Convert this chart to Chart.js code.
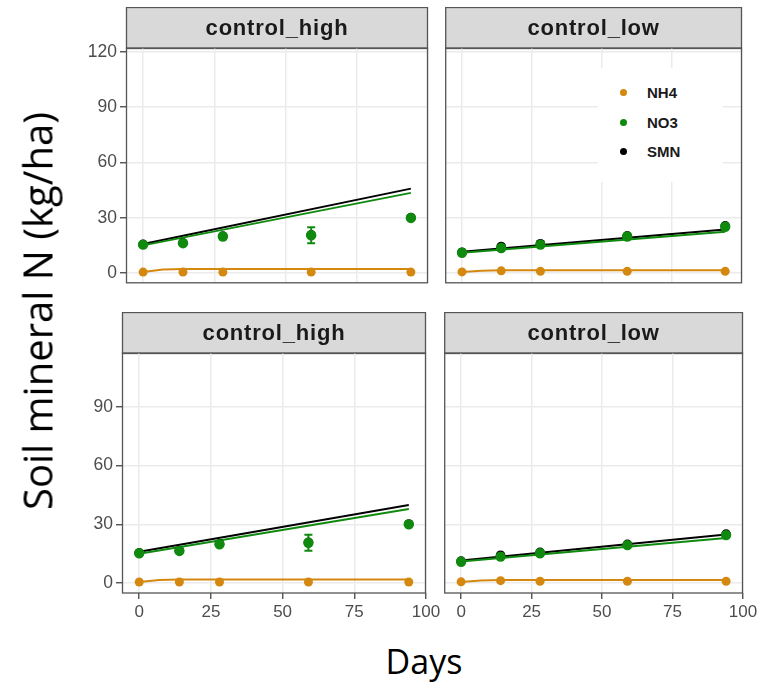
<!DOCTYPE html>
<html>
<head>
<meta charset="utf-8">
<script src="https://cdn.jsdelivr.net/npm/chart.js@4.4.0/dist/chart.umd.min.js"></script>
<style>
  body { margin: 0; background: #fff; }
  #wrap { position: relative; width: 762px; height: 687px; overflow: hidden; background: #fff; }
  #wrap canvas { position: absolute; }
  #ytitle {
    position: absolute; left: 37px; top: 311px;
    transform: translate(-50%, -50%) rotate(-90deg);
    font: 40px 'Open Sans'; white-space: nowrap; color: #000;
  }
  #xtitle {
    position: absolute; left: 424px; top: 661px;
    transform: translate(-50%, -50%);
    font: 34px 'Open Sans'; white-space: nowrap; color: #000;
  }
  #legend {
    position: absolute; left: 598px; top: 68px; width: 125px; height: 114px;
    background: #fff; z-index: 5;
  }
  #legend .item { position: absolute; left: 0; height: 20px; width: 125px; }
  #legend .dot { position: absolute; left: 22px; top: 6px; width: 7px; height: 7px; border-radius: 50%; }
  #legend .lab { position: absolute; left: 49px; top: 1px; font: bold 15px 'Liberation Sans'; color: #1a1a1a; }
</style>
</head>
<body>
<div id="wrap">
  <canvas id="tl"></canvas>
  <canvas id="tr"></canvas>
  <canvas id="bl"></canvas>
  <canvas id="br"></canvas>
  <div id="legend"></div>
  <div id="ytitle">Soil mineral N (kg/ha)</div>
  <div id="xtitle">Days</div>
</div>
<script>
// sampling days and tick labels
const days = [0, 14, 28, 59, 94];
const simDays = [0, 94];
const nh4SimDays = [0, 7, 14, 94];
const xTicks = [0, 25, 50, 75, 100];
const yTicksTop = [0, 30, 60, 90, 120];
const yTicksBottom = [0, 30, 60, 90];
const seriesNames = ['NH4', 'NO3', 'SMN'];
const seriesColors = ['#d4880f', '#0f8a0f', '#000000'];

// top row, control_high
const tlNH4 = [0.5, 0.5, 0.5, 0.5, 0.5];
const tlNO3 = [15.4, 16.2, 19.8, 20.5, 29.9];
const tlNO3Err = [0, 0, 0, 4.3, 0];
const tlSMN = [15.6, 16.4, 20.0, 20.7, 30.1];
const tlNH4Sim = [0.5, 1.9, 2.2, 2.2];
const tlNO3Sim = [15.0, 43.5];
const tlSMNSim = [15.8, 45.8];

// top row, control_low
const trNH4 = [0.6, 1.2, 0.9, 0.9, 0.9];
const trNO3 = [11.0, 13.6, 15.4, 19.8, 25.1];
const trNO3Err = [0, 0, 0, 0, 0];
const trSMN = [11.3, 14.4, 15.9, 20.2, 25.6];
const trNH4Sim = [0.5, 1.3, 1.5, 1.5];
const trNO3Sim = [11.0, 22.4];
const trSMNSim = [11.5, 23.6];

// bottom row, control_high
const blNH4 = [0.5, 0.5, 0.5, 0.5, 0.5];
const blNO3 = [15.2, 16.4, 19.8, 20.6, 30.0];
const blNO3Err = [0, 0, 0, 4.1, 0];
const blSMN = [15.4, 16.6, 20.0, 20.8, 30.2];
const blNH4Sim = [0.5, 1.6, 1.8, 1.8];
const blNO3Sim = [15.0, 37.8];
const blSMNSim = [16.0, 39.9];

// bottom row, control_low
const brNH4 = [0.6, 1.2, 0.9, 0.9, 0.9];
const brNO3 = [10.9, 13.5, 15.2, 19.4, 24.5];
const brNO3Err = [0, 0, 0, 0, 0];
const brSMN = [11.2, 14.2, 15.7, 19.8, 25.0];
const brNH4Sim = [0.5, 1.3, 1.5, 1.5];
const brNO3Sim = [11.0, 23.0];
const brSMNSim = [11.5, 24.8];

Chart.defaults.font.family = "'Liberation Sans', Arial, sans-serif";

const facetPlugin = {
  id: 'facet',
  beforeDraw(chart, args, o) {
    const { ctx, chartArea: a } = chart;
    ctx.save();
    ctx.fillStyle = '#d9d9d9';
    ctx.fillRect(a.left, a.top - o.stripH, a.right - a.left, o.stripH);
    ctx.strokeStyle = '#555';
    ctx.lineWidth = 1.3;
    ctx.strokeRect(a.left + 0.5, a.top - o.stripH + 0.5, a.right - a.left - 1, o.stripH);
    ctx.fillStyle = '#1a1a1a';
    ctx.font = "bold 22px 'Liberation Sans'";
    ctx.letterSpacing = '0.8px';
    ctx.textAlign = 'center';
    ctx.textBaseline = 'middle';
    ctx.fillText(o.title, (a.left + a.right) / 2, a.top - o.stripH / 2 + 1);
    ctx.restore();
  },
  afterDatasetsDraw(chart, args, o) {
    const { ctx } = chart;
    const xs = chart.scales.x, ys = chart.scales.y;
    ctx.save();
    ctx.strokeStyle = seriesColors[1];
    ctx.lineWidth = 2;
    o.values.forEach((v, i) => {
      const e = o.err[i];
      if (!e) return;
      const px = xs.getPixelForValue(days[i]);
      const lo = ys.getPixelForValue(v - e), hi = ys.getPixelForValue(v + e);
      ctx.beginPath();
      ctx.moveTo(px, lo); ctx.lineTo(px, hi);
      ctx.moveTo(px - 4, lo); ctx.lineTo(px + 4, lo);
      ctx.moveTo(px - 4, hi); ctx.lineTo(px + 4, hi);
      ctx.stroke();
    });
    ctx.restore();
  },
  afterDraw(chart) {
    const { ctx, chartArea: a } = chart;
    ctx.save();
    ctx.strokeStyle = '#555';
    ctx.lineWidth = 1.3;
    ctx.strokeRect(a.left + 0.5, a.top, a.right - a.left - 1, a.bottom - a.top);
    ctx.restore();
  }
};

function pts(xs, ys) { return xs.map((d, i) => ({ x: d, y: ys[i] })); }

function makePanel(id, p) {
  const cv = document.getElementById(id);
  const W = p.yW + (p.right - p.left) + p.padR;
  const H = p.stripH + (p.bottom - p.top) + p.xH;
  cv.width = W; cv.height = H;
  cv.style.width = W + 'px'; cv.style.height = H + 'px';
  cv.style.left = (p.left - p.yW) + 'px';
  cv.style.top = (p.top - p.stripH) + 'px';

  const obs = (ys, k, r) => ({
    label: seriesNames[k], data: pts(days, ys), showLine: false,
    pointRadius: r, pointBorderWidth: 0,
    pointBackgroundColor: seriesColors[k], backgroundColor: seriesColors[k], borderColor: seriesColors[k],
    order: k + 1
  });
  const sim = (xs, ys, k) => ({
    label: seriesNames[k] + ' sim', data: pts(xs, ys), showLine: true,
    pointRadius: 0, borderWidth: 2, borderColor: seriesColors[k], backgroundColor: seriesColors[k],
    order: k + 4
  });

  new Chart(cv, {
    type: 'scatter',
    data: {
      datasets: [
        obs(p.nh4, 0, 4.5), obs(p.no3, 1, 5.2), obs(p.smn, 2, 4.8),
        sim(nh4SimDays, p.nh4Sim, 0), sim(simDays, p.no3Sim, 1), sim(simDays, p.smnSim, 2)
      ]
    },
    options: {
      responsive: false,
      animation: false,
      devicePixelRatio: 1,
      layout: { padding: { top: p.stripH, right: p.padR, left: 0, bottom: 0 } },
      plugins: {
        legend: { display: false },
        tooltip: { enabled: false },
        facet: { title: p.title, stripH: p.stripH, values: p.no3, err: p.err }
      },
      scales: {
        x: {
          type: 'linear', min: -6, max: 100,
          afterBuildTicks: s => { s.ticks = xTicks.map(v => ({ value: v })); },
          afterFit: s => { s.height = p.xH; s.paddingLeft = 0; s.paddingRight = 0; },
          grid: { color: '#ebebeb', lineWidth: 1.5, drawTicks: p.xH > 0, tickLength: 6, tickColor: '#444', tickWidth: 1.3 },
          border: { display: false },
          ticks: { display: p.xH > 0, autoSkip: false, maxRotation: 0, padding: 3, color: '#4d4d4d', font: { size: 17 } }
        },
        y: {
          type: 'linear', min: p.yMin, max: p.yMax,
          afterBuildTicks: s => { s.ticks = p.yTicks.map(v => ({ value: v })); },
          afterFit: s => { s.width = p.yW; s.paddingTop = 0; s.paddingBottom = 0; },
          grid: { color: '#ebebeb', lineWidth: 1.5, drawTicks: p.yW > 0, tickLength: 6, tickColor: '#444', tickWidth: 1.3 },
          border: { display: false },
          ticks: { display: p.yW > 0, autoSkip: false, padding: 3, color: '#4d4d4d', font: { size: 17.5 } }
        }
      }
    },
    plugins: [facetPlugin]
  });
}

const topRow = { top: 48, bottom: 288, stripH: 41, xH: 0, yMin: -5.3, yMax: 122.1, yTicks: yTicksTop };
const botRow = { top: 353, bottom: 593, stripH: 41, xH: 32, yMin: -5.1, yMax: 117.6, yTicks: yTicksBottom };

makePanel('tl', Object.assign({}, topRow, {
  left: 126, right: 428, yW: 66, padR: 24, title: 'control_high',
  nh4: tlNH4, no3: tlNO3, err: tlNO3Err, smn: tlSMN, nh4Sim: tlNH4Sim, no3Sim: tlNO3Sim, smnSim: tlSMNSim
}));
makePanel('tr', Object.assign({}, topRow, {
  left: 440, right: 742, yW: 0, padR: 20, title: 'control_low',
  nh4: trNH4, no3: trNO3, err: trNO3Err, smn: trSMN, nh4Sim: trNH4Sim, no3Sim: trNO3Sim, smnSim: trSMNSim
}));
makePanel('bl', Object.assign({}, botRow, {
  left: 122, right: 426, yW: 66, padR: 24, title: 'control_high',
  nh4: blNH4, no3: blNO3, err: blNO3Err, smn: blSMN, nh4Sim: blNH4Sim, no3Sim: blNO3Sim, smnSim: blSMNSim
}));
makePanel('br', Object.assign({}, botRow, {
  left: 439, right: 743, yW: 0, padR: 19, title: 'control_low',
  nh4: brNH4, no3: brNO3, err: brNO3Err, smn: brSMN, nh4Sim: brNH4Sim, no3Sim: brNO3Sim, smnSim: brSMNSim
}));

// legend inside the control_low panel
const legend = document.getElementById('legend');
seriesNames.forEach((name, i) => {
  const item = document.createElement('div');
  item.className = 'item';
  item.style.top = (15 + i * 29.5) + 'px';
  item.innerHTML = '<span class="dot" style="background:' + seriesColors[i] + '"></span><span class="lab">' + name + '</span>';
  legend.appendChild(item);
});
</script>
</body>
</html>
